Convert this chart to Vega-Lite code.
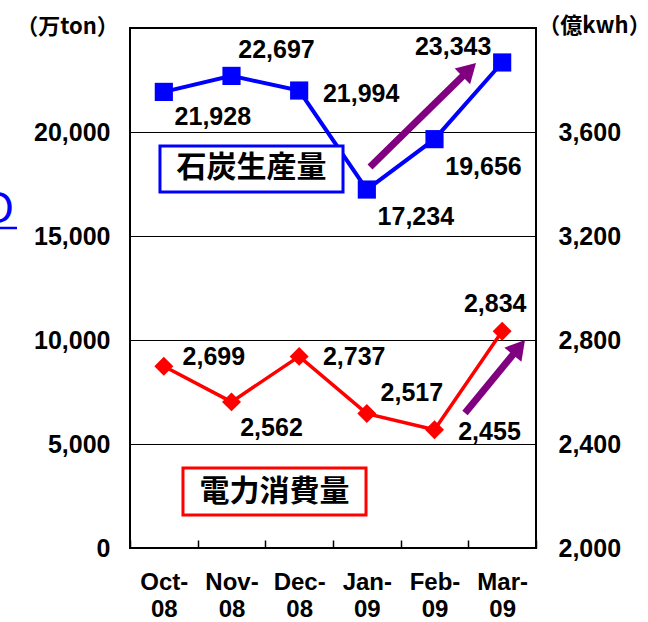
{
  "$schema": "https://vega.github.io/schema/vega-lite/v6.json",
  "width": 406,
  "height": 520,
  "autosize": {"type": "none"},
  "padding": {"left": 130, "top": 28, "right": 112, "bottom": 74},
  "background": "white",
  "config": {
    "view": {"stroke": "black", "strokeWidth": 2},
    "font": "Liberation Sans",
    "axis": {"labelColor": "black", "labelFont": "Liberation Sans", "labelFontSize": 25, "labelFontWeight": "bold", "domain": false, "ticks": false}
  },
  "datasets": {
    "coal": [
      {"month": "Oct-08", "value": 21928},
      {"month": "Nov-08", "value": 22697},
      {"month": "Dec-08", "value": 21994},
      {"month": "Jan-09", "value": 17234},
      {"month": "Feb-09", "value": 19656},
      {"month": "Mar-09", "value": 23343}
    ],
    "power": [
      {"month": "Oct-08", "value": 2699},
      {"month": "Nov-08", "value": 2562},
      {"month": "Dec-08", "value": 2737},
      {"month": "Jan-09", "value": 2517},
      {"month": "Feb-09", "value": 2455},
      {"month": "Mar-09", "value": 2834}
    ],
    "boxes": [
      {"series": "coal", "label": "石炭生産量", "x": -0.057, "x2": 2.648, "y": 17115, "y2": 19327, "cx": 1.296, "cy": 18269},
      {"series": "power", "label": "電力消費量", "x": 0.283, "x2": 2.988, "y": 1587, "y2": 3846, "cx": 1.635, "cy": 2716}
    ],
    "arrows": [
      {"arrow": "coal", "x": 3.047, "y": 18317, "x2": 4.513, "y2": 22998},
      {"arrow": "power", "x": 4.451, "y": 6490, "x2": 5.248, "y2": 9648}
    ],
    "stray": [
      {"label": "O", "x": -2.47, "y": 16250, "x2": -2.17, "ux": -2.45, "uy": 15385}
    ]
  },
  "layer": [
    {
      "layer": [
        {
          "data": {"name": "coal"},
          "encoding": {
            "x": {"field": "month", "type": "nominal", "sort": null,
                  "scale": {"type": "band", "paddingInner": 0, "paddingOuter": 0},
                  "axis": {"title": null, "labelAngle": 0, "labelFontSize": 24, "labelLineHeight": 27, "labelPadding": 30,
                           "labelExpr": "[slice(datum.label,0,4), slice(datum.label,4)]",
                           "ticks": true, "tickBand": "extent", "tickSize": -8, "tickColor": "black", "tickWidth": 1.5}},
            "y": {"field": "value", "type": "quantitative",
                  "scale": {"domain": [0, 25000]},
                  "axis": {"orient": "left", "values": [0, 5000, 10000, 15000, 20000], "format": ",.0f", "labelPadding": 20,
                           "grid": true, "gridColor": "black", "gridOpacity": 1, "gridWidth": 1,
                           "title": "（万ton）", "titleAngle": 0, "titleFont": "Noto Sans CJK JP", "titleFontSize": 22, "titleFontWeight": "bold",
                           "titleColor": "black", "titleAlign": "center", "titleBaseline": "middle", "titleX": -63, "titleY": -2}}
          },
          "layer": [
            {"mark": {"type": "line", "color": "#0000FF", "strokeWidth": 4}},
            {"mark": {"type": "point", "shape": "square", "filled": true, "size": 330, "color": "#0000FF", "opacity": 1}},
            {"transform": [{"filter": "datum.month == 'Oct-08'"}], "mark": {"type": "text", "fontSize": 25, "fontWeight": "bold", "color": "black", "dx": 49, "dy": 25, "baseline": "middle"}, "encoding": {"text": {"field": "value", "type": "quantitative", "format": ","}}},
            {"transform": [{"filter": "datum.month == 'Nov-08'"}], "mark": {"type": "text", "fontSize": 25, "fontWeight": "bold", "color": "black", "dx": 45, "dy": -26, "baseline": "middle"}, "encoding": {"text": {"field": "value", "type": "quantitative", "format": ","}}},
            {"transform": [{"filter": "datum.month == 'Dec-08'"}], "mark": {"type": "text", "fontSize": 25, "fontWeight": "bold", "color": "black", "dx": 62, "dy": 3, "baseline": "middle"}, "encoding": {"text": {"field": "value", "type": "quantitative", "format": ","}}},
            {"transform": [{"filter": "datum.month == 'Jan-09'"}], "mark": {"type": "text", "fontSize": 25, "fontWeight": "bold", "color": "black", "dx": 49, "dy": 27, "baseline": "middle"}, "encoding": {"text": {"field": "value", "type": "quantitative", "format": ","}}},
            {"transform": [{"filter": "datum.month == 'Feb-09'"}], "mark": {"type": "text", "fontSize": 25, "fontWeight": "bold", "color": "black", "dx": 49, "dy": 28, "baseline": "middle"}, "encoding": {"text": {"field": "value", "type": "quantitative", "format": ","}}},
            {"transform": [{"filter": "datum.month == 'Mar-09'"}], "mark": {"type": "text", "fontSize": 25, "fontWeight": "bold", "color": "black", "dx": -49, "dy": -15, "baseline": "middle"}, "encoding": {"text": {"field": "value", "type": "quantitative", "format": ","}}}
          ]
        },
        {
          "data": {"name": "power"},
          "encoding": {
            "x": {"field": "month", "type": "nominal", "sort": null,
                  "scale": {"type": "band", "paddingInner": 0, "paddingOuter": 0}},
            "y": {"field": "value", "type": "quantitative",
                  "scale": {"domain": [2000, 4000]},
                  "axis": {"orient": "right", "values": [2000, 2400, 2800, 3200, 3600], "format": ",.0f", "labelPadding": 22, "grid": false,
                           "title": "（億kwh）", "titleAngle": 0, "titleFont": "Noto Sans CJK JP", "titleFontSize": 22, "titleFontWeight": "bold",
                           "titleColor": "black", "titleAlign": "center", "titleBaseline": "middle", "titleX": 58, "titleY": -3}}
          },
          "layer": [
            {"mark": {"type": "line", "color": "#FF0000", "strokeWidth": 3.5}},
            {"mark": {"type": "point", "shape": "diamond", "filled": true, "size": 360, "color": "#FF0000", "opacity": 1}},
            {"transform": [{"filter": "datum.month == 'Oct-08'"}], "mark": {"type": "text", "fontSize": 25, "fontWeight": "bold", "color": "black", "dx": 50, "dy": -9, "baseline": "middle"}, "encoding": {"text": {"field": "value", "type": "quantitative", "format": ","}}},
            {"transform": [{"filter": "datum.month == 'Nov-08'"}], "mark": {"type": "text", "fontSize": 25, "fontWeight": "bold", "color": "black", "dx": 40, "dy": 26, "baseline": "middle"}, "encoding": {"text": {"field": "value", "type": "quantitative", "format": ","}}},
            {"transform": [{"filter": "datum.month == 'Dec-08'"}], "mark": {"type": "text", "fontSize": 25, "fontWeight": "bold", "color": "black", "dx": 55, "dy": 1, "baseline": "middle"}, "encoding": {"text": {"field": "value", "type": "quantitative", "format": ","}}},
            {"transform": [{"filter": "datum.month == 'Jan-09'"}], "mark": {"type": "text", "fontSize": 25, "fontWeight": "bold", "color": "black", "dx": 45, "dy": -21, "baseline": "middle"}, "encoding": {"text": {"field": "value", "type": "quantitative", "format": ","}}},
            {"transform": [{"filter": "datum.month == 'Feb-09'"}], "mark": {"type": "text", "fontSize": 25, "fontWeight": "bold", "color": "black", "dx": 55, "dy": 2, "baseline": "middle"}, "encoding": {"text": {"field": "value", "type": "quantitative", "format": ","}}},
            {"transform": [{"filter": "datum.month == 'Mar-09'"}], "mark": {"type": "text", "fontSize": 25, "fontWeight": "bold", "color": "black", "dx": -7, "dy": -27, "baseline": "middle"}, "encoding": {"text": {"field": "value", "type": "quantitative", "format": ","}}}
          ]
        }
      ],
      "resolve": {"scale": {"y": "independent"}, "axis": {"y": "independent"}}
    },
    {
      "layer": [
        {
          "data": {"name": "boxes"},
          "mark": {"type": "rect", "fill": "white", "strokeWidth": 3},
          "encoding": {
            "x": {"field": "x", "type": "quantitative", "scale": {"domain": [-0.5, 5.5]}, "axis": null},
            "x2": {"field": "x2"},
            "y": {"field": "y", "type": "quantitative", "scale": {"domain": [0, 25000]}, "axis": null},
            "y2": {"field": "y2"},
            "stroke": {"field": "series", "type": "nominal", "scale": {"domain": ["coal", "power"], "range": ["#0000FF", "#FF0000"]}, "legend": null}
          }
        },
        {
          "data": {"name": "boxes"},
          "mark": {"type": "text", "font": "Noto Sans CJK JP", "fontWeight": "bold", "fontSize": 30, "color": "black", "baseline": "middle", "align": "center"},
          "encoding": {
            "x": {"field": "cx", "type": "quantitative", "scale": {"domain": [-0.5, 5.5]}, "axis": null},
            "y": {"field": "cy", "type": "quantitative", "scale": {"domain": [0, 25000]}, "axis": null},
            "text": {"field": "label"}
          }
        },
        {
          "data": {"name": "arrows"},
          "mark": {"type": "rule", "color": "#800080", "strokeWidth": 7, "strokeCap": "butt"},
          "encoding": {
            "x": {"field": "x", "type": "quantitative", "scale": {"domain": [-0.5, 5.5]}, "axis": null},
            "x2": {"field": "x2"},
            "y": {"field": "y", "type": "quantitative", "scale": {"domain": [0, 25000]}, "axis": null},
            "y2": {"field": "y2"}
          }
        },
        {
          "data": {"name": "arrows"},
          "transform": [{"filter": "datum.arrow == 'coal'"}],
          "mark": {"type": "point", "shape": "triangle-up", "filled": true, "size": 484, "color": "#800080", "opacity": 1, "angle": 45.6},
          "encoding": {
            "x": {"field": "x2", "type": "quantitative", "scale": {"domain": [-0.5, 5.5]}, "axis": null},
            "y": {"field": "y2", "type": "quantitative", "scale": {"domain": [0, 25000]}, "axis": null}
          }
        },
        {
          "data": {"name": "arrows"},
          "transform": [{"filter": "datum.arrow == 'power'"}],
          "mark": {"type": "point", "shape": "triangle-up", "filled": true, "size": 484, "color": "#800080", "opacity": 1, "angle": 39.4},
          "encoding": {
            "x": {"field": "x2", "type": "quantitative", "scale": {"domain": [-0.5, 5.5]}, "axis": null},
            "y": {"field": "y2", "type": "quantitative", "scale": {"domain": [0, 25000]}, "axis": null}
          }
        },
        {
          "data": {"name": "stray"},
          "mark": {"type": "text", "fontSize": 44, "color": "#0000FF", "align": "center", "baseline": "middle"},
          "encoding": {
            "x": {"field": "x", "type": "quantitative", "scale": {"domain": [-0.5, 5.5]}, "axis": null},
            "y": {"field": "y", "type": "quantitative", "scale": {"domain": [0, 25000]}, "axis": null},
            "text": {"field": "label"}
          }
        },
        {
          "data": {"name": "stray"},
          "mark": {"type": "rule", "color": "#0000FF", "strokeWidth": 2.5},
          "encoding": {
            "x": {"field": "ux", "type": "quantitative", "scale": {"domain": [-0.5, 5.5]}, "axis": null},
            "x2": {"field": "x2"},
            "y": {"field": "uy", "type": "quantitative", "scale": {"domain": [0, 25000]}, "axis": null}
          }
        }
      ]
    }
  ],
  "resolve": {"scale": {"x": "independent", "y": "independent"}, "axis": {"x": "independent", "y": "independent"}}
}
